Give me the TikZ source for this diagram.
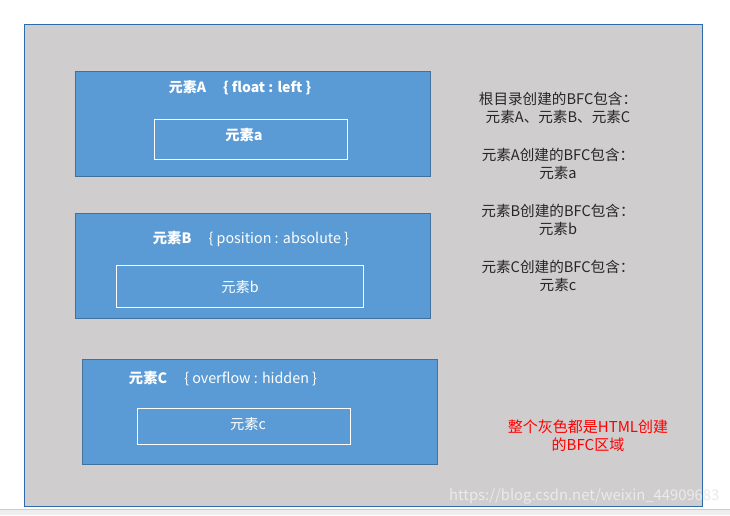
\documentclass[tikz,border=0pt]{standalone}
\usepackage{fontspec}
\setmainfont{Noto Sans CJK SC}
\definecolor{bggray}{HTML}{CFCDCE}
\definecolor{boxblue}{HTML}{5B9BD5}
\definecolor{boxedge}{HTML}{41719C}
\definecolor{frameedge}{HTML}{2E6AAE}
\definecolor{stripgray}{HTML}{EEEEEE}
\begin{document}
\begin{tikzpicture}[x=1pt,y=-1pt,
  outerbox/.style={draw=boxedge,fill=boxblue,line width=0.8pt},
  innerbox/.style={draw=white,line width=0.8pt},
  wtext/.style={text=white,font=\fontsize{14.3}{16}\selectfont,inner sep=0pt},
  gtext/.style={text=black!85,font=\fontsize{14.6}{17.5}\selectfont,align=center,inner sep=0pt},
  rtext/.style={text=red,font=\fontsize{15}{18}\selectfont,align=center,inner sep=0pt}]
\useasboundingbox (0,0) rectangle (730,515);
\fill[white] (0,0) rectangle (730,515);
\fill[stripgray] (0,509) rectangle (730,515);
\draw[black!20,line width=0.6pt] (0,509) -- (730,509);
% frame
\draw[frameedge,fill=bggray,line width=1pt] (24,24) rectangle (702,506);
% box A
\draw[outerbox] (75,71) rectangle (430,176);
\draw[innerbox] (154,119) rectangle (347,159);
\node[wtext,font=\fontsize{14}{16}\selectfont] (tA) at (240,88) {\textbf{元素A}\hspace{1.2em}\textbf{\{ float : left \}}};
\node[wtext] (ta) at (244,135) {\textbf{元素a}};
% box B
\draw[outerbox] (75,213) rectangle (430,318);
\draw[innerbox] (116,265) rectangle (363,307);
\node[wtext] (tB) at (251,239) {\textbf{元素B}\hspace{1.2em}\{ position : absolute \}};
\node[wtext] (tb) at (240,287) {元素b};
% box C
\draw[outerbox] (82,359) rectangle (437,464);
\draw[innerbox] (137,408) rectangle (350,444);
\node[wtext] (tC) at (223,379) {\textbf{元素C}\hspace{1.2em}\{ overflow : hidden \}};
\node[wtext] (tc) at (248,424) {元素c};
% right notes
\node[gtext] (n1) at (558,108) {根目录创建的BFC包含：\\元素A、元素B、元素C};
\node[gtext] (n2) at (558,164) {元素A创建的BFC包含：\\元素a};
\node[gtext] (n3) at (558,220) {元素B创建的BFC包含：\\元素b};
\node[gtext] (n4) at (558,276) {元素C创建的BFC包含：\\元素c};
\node[rtext] (red) at (588,436) {整个灰色都是HTML创建\\的BFC区域};
% watermark
\node[text=white!92!black,font=\fontsize{14.8}{16}\selectfont,inner sep=0pt,anchor=west] (wm) at (449,496) {https://blog.csdn.net/weixin\_44909683};
\end{tikzpicture}
\end{document}
